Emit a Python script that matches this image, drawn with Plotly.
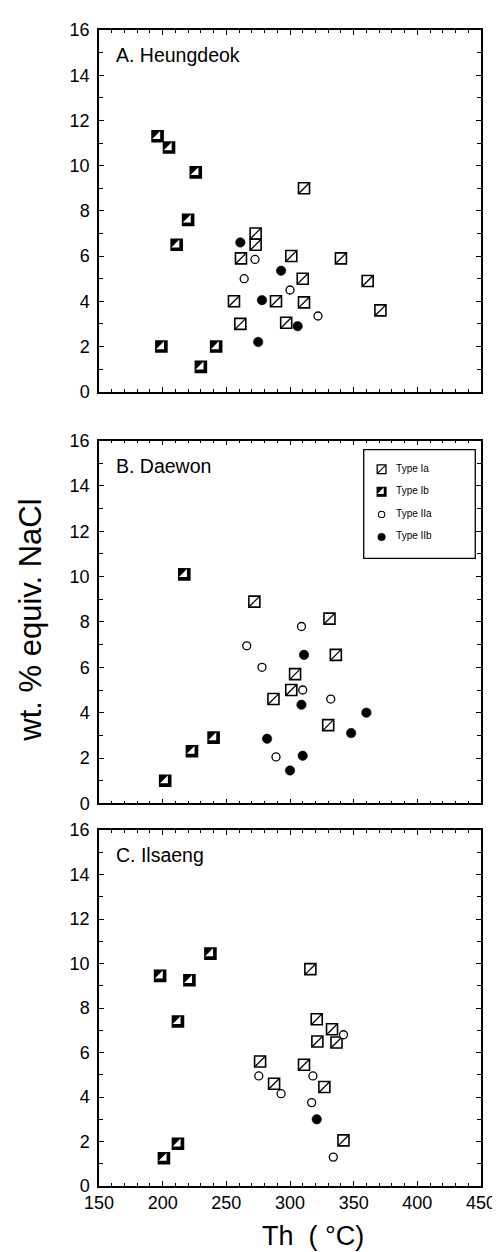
import plotly.graph_objects as go

# ---------------- data (Th in degC, salinity wt.% NaCl equiv.) ----------------
# Panel A. Heungdeok
A_Ia_th = [311, 273, 273, 261.5, 301, 340, 310, 361, 256, 289, 311, 371, 261, 297]
A_Ia_s = [9.0, 7.0, 6.5, 5.9, 6.0, 5.9, 5.0, 4.9, 4.0, 4.0, 3.95, 3.6, 3.0, 3.05]
A_Ib_th = [196, 205, 226, 220, 211, 199, 230, 242]
A_Ib_s = [11.3, 10.8, 9.7, 7.6, 6.5, 2.0, 1.1, 2.0]
A_IIa_th = [272.5, 264, 300, 322]
A_IIa_s = [5.85, 5.0, 4.5, 3.35]
A_IIb_th = [261, 293, 278, 306, 275]
A_IIb_s = [6.6, 5.35, 4.05, 2.9, 2.2]

# Panel B. Daewon
B_Ia_th = [272, 331, 336, 304, 301, 287, 330]
B_Ia_s = [8.9, 8.15, 6.55, 5.7, 5.0, 4.6, 3.45]
B_Ib_th = [217, 202, 223, 240]
B_Ib_s = [10.1, 1.0, 2.3, 2.9]
B_IIa_th = [309, 266, 278, 310, 332, 289]
B_IIa_s = [7.8, 6.95, 6.0, 5.0, 4.6, 2.05]
B_IIb_th = [311, 309, 360, 348, 282, 310, 300]
B_IIb_s = [6.55, 4.35, 4.0, 3.1, 2.85, 2.1, 1.45]

# Panel C. Ilsaeng
C_Ia_th = [316, 321, 333, 321.5, 336.5, 276.5, 311, 287.5, 327, 342]
C_Ia_s = [9.75, 7.5, 7.05, 6.5, 6.45, 5.6, 5.45, 4.6, 4.45, 2.05]
C_Ib_th = [198, 221, 237.5, 212, 212, 201]
C_Ib_s = [9.45, 9.25, 10.45, 7.4, 1.9, 1.25]
C_IIa_th = [342, 275.5, 318, 293, 317, 334]
C_IIa_s = [6.8, 4.95, 4.95, 4.15, 3.75, 1.3]
C_IIb_th = [321]
C_IIb_s = [3.0]

panel_titles = ["A. Heungdeok", "B. Daewon", "C. Ilsaeng"]
legend_labels = ["Type Ia", "Type Ib", "Type IIa", "Type IIb"]
x_ticks = [150, 200, 250, 300, 350, 400, 450]
y_ticks = [0, 2, 4, 6, 8, 10, 12, 14, 16]

panels = [
    (A_Ia_th, A_Ia_s, A_Ib_th, A_Ib_s, A_IIa_th, A_IIa_s, A_IIb_th, A_IIb_s),
    (B_Ia_th, B_Ia_s, B_Ib_th, B_Ib_s, B_IIa_th, B_IIa_s, B_IIb_th, B_IIb_s),
    (C_Ia_th, C_Ia_s, C_Ib_th, C_Ib_s, C_IIa_th, C_IIa_s, C_IIb_th, C_IIb_s),
]

FONT = "Liberation Sans, Arial, Helvetica, sans-serif"
SQ = 11


def add_type(fig, kind, x, y, xa, ya, scale=1.0):
    sq = SQ * scale
    common = dict(mode="markers", xaxis=xa, yaxis=ya, showlegend=False, hoverinfo="skip")
    if kind == "Ia":
        fig.add_trace(go.Scatter(x=x, y=y, **common,
                                 marker=dict(symbol="square", size=sq, color="white",
                                             line=dict(color="black", width=1.6 * scale))))
        fig.add_trace(go.Scatter(x=x, y=y, **common,
                                 marker=dict(symbol="line-ne", size=sq * 0.95,
                                             line=dict(color="black", width=1.3 * scale))))
    elif kind == "Ib":
        fig.add_trace(go.Scatter(x=x, y=y, **common,
                                 marker=dict(symbol="square", size=sq, color="black",
                                             line=dict(color="black", width=1.6 * scale))))
        fig.add_trace(go.Scatter(x=x, y=y, **common,
                                 marker=dict(symbol="triangle-se", size=sq * 0.8, color="white",
                                             line=dict(width=0))))
    elif kind == "IIa":
        fig.add_trace(go.Scatter(x=x, y=y, **common,
                                 marker=dict(symbol="circle", size=8 * scale, color="white",
                                             line=dict(color="black", width=1.3 * scale))))
    else:
        fig.add_trace(go.Scatter(x=x, y=y, **common,
                                 marker=dict(symbol="circle", size=9.5 * scale, color="black",
                                             line=dict(color="black", width=0.5))))


fig = go.Figure()
axes = [("x", "y"), ("x2", "y2"), ("x3", "y3")]
for (xa, ya), p in zip(axes, panels):
    add_type(fig, "Ia", p[0], p[1], xa, ya)
    add_type(fig, "Ib", p[2], p[3], xa, ya)
    add_type(fig, "IIa", p[4], p[5], xa, ya)
    add_type(fig, "IIb", p[6], p[7], xa, ya)

# legend (drawn on its own hidden axes placed inside panel B)
kinds = ["Ia", "Ib", "IIa", "IIb"]
for i, (k, lab) in enumerate(zip(kinds, legend_labels)):
    yy = 0.82 - 0.208 * i
    add_type(fig, k, [0.16], [yy], "x4", "y4", scale=0.8)
    fig.add_trace(go.Scatter(x=[0.29], y=[yy], mode="text", text=[lab], textposition="middle right",
                             xaxis="x4", yaxis="y4", showlegend=False, hoverinfo="skip",
                             textfont=dict(family=FONT, size=10, color="black")))

y_domains = [[0.6871, 1.0], [0.3310, 0.6448], [0.0, 0.3078]]

axis_common = dict(showline=True, linecolor="black", linewidth=1.5, mirror="ticks",
                   ticks="inside", tickcolor="black", tickwidth=1.2, showgrid=False, zeroline=False,
                   tickfont=dict(family=FONT, size=18, color="black"))

layout = dict(
    width=500, height=1252,
    margin=dict(l=91, r=18, t=18, b=74),
    paper_bgcolor="white", plot_bgcolor="white",
    showlegend=False,
    font=dict(family=FONT, color="black"),
)

for i, (xa, ya) in enumerate(axes):
    xname = "xaxis" if i == 0 else f"xaxis{i + 1}"
    yname = "yaxis" if i == 0 else f"yaxis{i + 1}"
    layout[xname] = dict(axis_common, domain=[0, 1], anchor=ya, range=[150, 450],
                         tickvals=x_ticks, ticklen=5, showticklabels=(i == 2),
                         minor=dict(dtick=10, ticklen=3, ticks="inside", tickcolor="black", tickwidth=1))
    layout[yname] = dict(axis_common, domain=y_domains[i], anchor=xa, range=[0, 16],
                         tickvals=y_ticks, ticklen=5, ticklabelstandoff=4,
                         minor=dict(dtick=1, ticklen=4, ticks="inside", tickcolor="black", tickwidth=1))

layout["xaxis4"] = dict(domain=[0.693, 0.985], range=[0, 1], visible=False, anchor="y4", fixedrange=True)
layout["yaxis4"] = dict(domain=[0.543, 0.637], range=[0, 1], visible=False, anchor="x4", fixedrange=True)

fig.update_layout(**layout)

# legend border
fig.add_shape(type="rect", xref="x4 domain", yref="y4 domain", x0=0, x1=1, y0=0, y1=1,
              line=dict(color="black", width=1.3), fillcolor="rgba(0,0,0,0)")

# panel titles
for i, t in enumerate(panel_titles):
    xa = "x" if i == 0 else f"x{i + 1}"
    ya = "y" if i == 0 else f"y{i + 1}"
    fig.add_annotation(text=t, x=0.04, y=0.93, xref=f"{xa} domain", yref=f"{ya} domain",
                       xanchor="left", yanchor="middle", showarrow=False,
                       font=dict(family=FONT, size=19.5, color="black"))

# axis titles
fig.add_annotation(text="wt. % equiv. NaCl", x=-0.178, y=0.489, xref="paper", yref="paper",
                   textangle=-90, showarrow=False, xanchor="center", yanchor="middle",
                   font=dict(family=FONT, size=31, color="black"))
fig.add_annotation(text="Th  ( °C)", x=0.56, y=-0.0575, xref="paper", yref="paper",
                   showarrow=False, xanchor="center", yanchor="bottom", borderpad=0,
                   font=dict(family=FONT, size=27, color="black"))

fig.write_html("out.html")
